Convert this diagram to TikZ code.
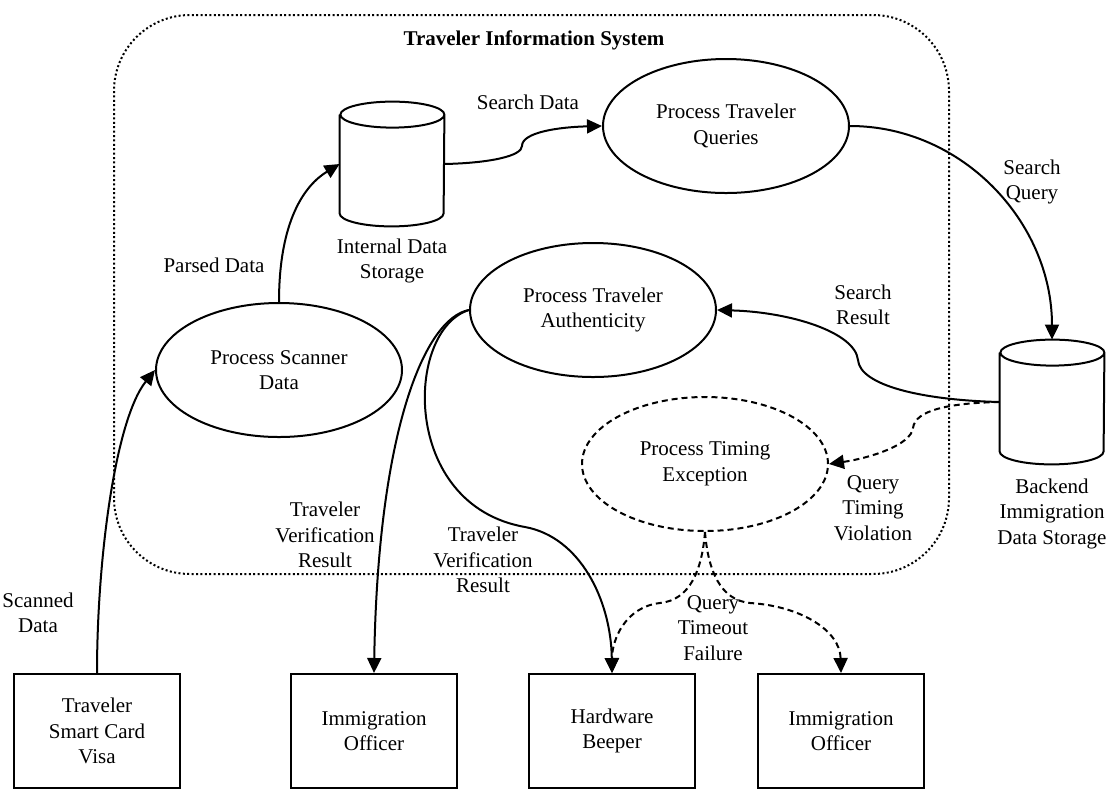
\documentclass[tikz,border=0pt]{standalone}
\usepackage{fontspec}
\setmainfont{Liberation Serif}
\usepackage{tikz}
\usetikzlibrary{shapes.geometric,arrows.meta,positioning}
% cylinder outline round a named store node
\newcommand{\dbcyl}[1]{%
  \draw[line width=1pt] ([yshift=-6.5pt]#1.north west) -- ([yshift=6.5pt]#1.south west)
    arc[start angle=180,end angle=360,x radius=26pt,y radius=6.5pt]
    -- ([yshift=-6.5pt]#1.north east)
    arc[start angle=0,end angle=360,x radius=26pt,y radius=6.5pt];}

\begin{document}
\begin{tikzpicture}[x=0.5pt,y=-0.5pt,
  every node/.style={font=\fontsize{10.5}{12.8}\selectfont,align=center},
  proc/.style={draw,ellipse,line width=1pt,minimum width=123pt,minimum height=67pt,inner sep=0pt},
  tproc/.style={proc,dash pattern=on 3pt off 2pt},
  store/.style={rectangle,minimum width=52pt,minimum height=62pt,inner sep=0pt},
  ent/.style={draw,rectangle,line width=1pt,minimum width=83pt,minimum height=57pt,inner sep=0pt},
  flow/.style={line width=1pt,-{Triangle[length=7.5pt,width=7pt]}},
  tflow/.style={flow,dash pattern=on 3pt off 2pt},
  lbl/.style={inner sep=1pt}]
\useasboundingbox (0,0) rectangle (1110,789);
% system boundary
\draw[line width=1pt,dash pattern=on 1pt off 1.2pt,rounded corners=38pt] (114,15) rectangle (949,574);
\node[font=\fontsize{10.5}{12.8}\selectfont\bfseries] (title) at (534,40) {Traveler Information System};
% processes and stores
\node[proc] (pts) at (279,370) {Process Scanner\\Data};
\node[proc] (ptq) at (726,126) {Process Traveler\\Queries};
\node[proc] (pta) at (593,310) {Process Traveler\\Authenticity};
\node[tproc] (pte) at (705,464) {Process Timing\\Exception};
\node[store] (ids) at (392,164) {};
\dbcyl{ids}
\node[lbl,below=5pt of ids] (idslbl) {Internal Data\\Storage};
\node[store] (bds) at (1052,402) {};
\dbcyl{bds}
\node[lbl,below=6pt of bds] (bdslbl) {Backend\\Immigration\\Data Storage};
% external entities
\node[ent] (tscv) at (97,731) {Traveler\\Smart Card\\Visa};
\node[ent] (io1) at (374,731) {Immigration\\Officer};
\node[ent] (hb) at (612,731) {Hardware\\Beeper};
\node[ent] (io2) at (841,731) {Immigration\\Officer};
% flows
\draw[flow] (tscv.north) .. controls (97,560) and (115,420) .. (pts.west);
\draw[flow] (pts.north) .. controls (279,220) and (305,185) .. (ids.west);
\draw[flow] (ids.east) .. controls (490,163) and (522,156) .. (522,146)
  .. controls (522,132) and (560,127) .. (ptq.west);
\draw[flow] (ptq.east) .. controls (962,126) and (1052,222) .. (bds.north);
\draw[flow] (bds.west) .. controls (920,400) and (860,385) .. (858,360)
  .. controls (855,332) and (790,312) .. (pta.east);
\draw[tflow] (bds.west) .. controls (950,403) and (915,410) .. (913,428)
  .. controls (911,445) and (870,458) .. (pte.east);
\draw[flow] (pta.west) .. controls (425,318) and (378,430) .. (io1.north);
\draw[flow] (pta.west) .. controls (405,330) and (400,505) .. (525,527)
  .. controls (580,537) and (611,600) .. (hb.north);
\draw[tflow] (pte.south) .. controls (702,570) and (690,600) .. (660,603)
  .. controls (625,607) and (612,640) .. (hb.north);
\draw[tflow] (pte.south) .. controls (708,570) and (720,600) .. (750,603)
  .. controls (800,606) and (840,630) .. (io2.north);
% flow labels
\node[lbl] (lsd) at (528,102) {Search Data};
\node[lbl] (lpd) at (214,265) {Parsed Data};
\node[lbl] (lscd) at (38,613) {Scanned\\Data};
\node[lbl] (lsq) at (1032,182) {Search\\Query};
\node[lbl] (lsr) at (863,305) {Search\\Result};
\node[lbl] (lqtv) at (873,508) {Query\\Timing\\Violation};
\node[lbl] (lqtf) at (713,628) {Query\\Timeout\\Failure};
\node[lbl] (ltvr1) at (325,535) {Traveler\\Verification\\Result};
\node[lbl] (ltvr2) at (483,560) {Traveler\\Verification\\Result};
\end{tikzpicture}
\end{document}
